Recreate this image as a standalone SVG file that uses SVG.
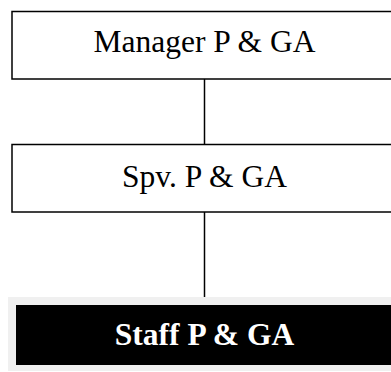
<svg xmlns="http://www.w3.org/2000/svg" width="391" height="372" viewBox="0 0 391 372">
<style>
.box{fill:#fff;stroke:#000;stroke-width:1.5}
.t{font-family:"Liberation Serif","Times New Roman",serif;font-size:31.5px;text-anchor:middle;fill:#000}
.b{font-weight:bold;fill:#fff}
.c{stroke:#000;stroke-width:1.5;fill:none}
</style>
<rect width="391" height="372" fill="#fff"/>
<g id="connectors">
<line class="c" x1="204.5" y1="79" x2="204.5" y2="144"/>
<line class="c" x1="204.5" y1="212" x2="204.5" y2="297"/>
</g>
<g id="manager">
<rect class="box" x="12" y="11.5" width="390" height="67.5"/>
<text class="t" x="204.5" y="51.7">Manager P &amp; GA</text>
</g>
<g id="spv">
<rect class="box" x="12" y="144.5" width="390" height="67.5"/>
<text class="t" x="204.5" y="186.7">Spv. P &amp; GA</text>
</g>
<g id="staff">
<rect x="8" y="297" width="390" height="74" fill="#f0f0f0"/>
<rect x="16" y="305" width="380" height="60" fill="#000"/>
<text class="t b" x="204.5" y="345">Staff P &amp; GA</text>
</g>
</svg>
